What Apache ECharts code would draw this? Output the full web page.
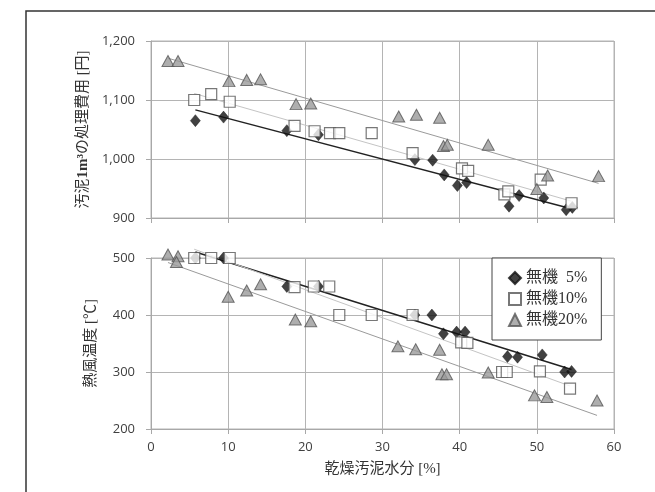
<!DOCTYPE html>
<html>
<head>
<meta charset="utf-8">
<script src="https://cdn.jsdelivr.net/npm/echarts@6/dist/echarts.min.js"></script>
<style>html,body{margin:0;padding:0;background:#fff;}#c{width:655px;height:492px;}</style>
</head>
<body>
<div id="c"></div>
<script>
// X: 乾燥汚泥水分 [%], Y(top): 汚泥1m³の処理費用 [円], Y(bottom): 熱風温度 [℃]
const names = ['無機\u20075%', '無機10%', '無機20%'];
const xTicks = { min: 0, max: 60, interval: 10 };
const costTicks = { min: 900, max: 1200, interval: 100 };
const tempTicks = { min: 200, max: 500, interval: 100 };

const cost5 = [[5.75,1065],[9.4,1071],[17.6,1048],[21.7,1041],[34.2,999],[36.5,998],[38.0,973],[39.7,955],[40.9,960],[46.4,920],[47.7,938],[50.9,934],[53.8,914],[54.6,918]];
const cost10 = [[5.6,1100],[7.8,1110],[10.2,1097],[18.6,1056],[21.2,1047],[23.2,1044],[24.4,1044],[28.6,1044],[33.9,1010],[40.3,984],[41.1,980],[45.8,940],[46.3,945],[50.5,965],[54.5,925]];
const cost20 = [[2.2,1166],[3.5,1166],[10.1,1132],[12.4,1134],[14.2,1135],[18.8,1093],[20.7,1094],[32.1,1072],[34.4,1075],[37.4,1070],[37.9,1022],[38.4,1024],[43.7,1024],[50.0,949],[51.4,972],[58.0,971]];

const temp5 = [[5.75,500],[9.4,500],[17.6,450],[21.7,450],[34.2,400],[36.4,400],[37.9,367],[39.6,370],[40.7,370],[46.2,327],[47.5,326],[50.7,330],[53.6,300],[54.5,301]];
const temp10 = [[5.6,500],[7.8,500],[10.2,500],[18.6,449],[21.1,450],[23.1,450],[24.4,400],[28.6,400],[33.9,400],[40.2,352],[41.0,351],[45.5,300],[46.1,300],[50.4,301],[54.3,271]];
const temp20 = [[2.2,506],[3.5,503],[3.3,493],[10.0,432],[12.4,443],[14.2,454],[18.7,392],[20.7,389],[32.0,345],[34.3,340],[37.4,339],[37.7,296],[38.3,296],[43.7,299],[49.7,259],[51.3,256],[57.8,250]];

function fit(pts) {
  const n = pts.length;
  let sx = 0, sy = 0, sxx = 0, sxy = 0, xmin = Infinity, xmax = -Infinity;
  pts.forEach(([x, y]) => { sx += x; sy += y; sxx += x * x; sxy += x * y; xmin = Math.min(xmin, x); xmax = Math.max(xmax, x); });
  const b = (n * sxy - sx * sy) / (n * sxx - sx * sx);
  const a = (sy - b * sx) / n;
  return [[xmin, a + b * xmin], [xmax, a + b * xmax]];
}

const tickFont = { fontFamily: "'Open Sans','Noto Sans',sans-serif", fontSize: 13, color: '#404040' };
const nameFont = { fontFamily: "'Liberation Serif','Noto Sans CJK JP',serif", fontSize: 15, color: '#333' };
const gridLine = { show: true, lineStyle: { color: '#b4b4b4', width: 1 } };
const axLine = { show: true, lineStyle: { color: '#a8a8a8', width: 1 } };
const axTick = { show: true, length: 5, lineStyle: { color: '#a8a8a8' } };

const markers = [
  { symbol: 'diamond', symbolSize: [10, 12], itemStyle: { color: '#111', borderColor: '#111', borderWidth: 0.5 } },
  { symbol: 'rect', symbolSize: 11, itemStyle: { color: '#fff', borderColor: '#555', borderWidth: 1.2 } },
  { symbol: 'triangle', symbolSize: [12, 11], itemStyle: { color: '#9a9a9a', borderColor: '#555', borderWidth: 1 } }
];
const trendStyles = [
  { color: '#222', width: 1.5 },
  { color: '#c4c4c4', width: 1 },
  { color: '#9a9a9a', width: 1 }
];

const series = [];
[[cost5, cost10, cost20], [temp5, temp10, temp20]].forEach((group, gi) => {
  group.forEach((pts, si) => {
    series.push({
      name: 'trend' + gi + si, type: 'line', xAxisIndex: gi, yAxisIndex: gi,
      data: fit(pts), showSymbol: false, symbol: 'none', silent: true, clip: false,
      lineStyle: trendStyles[si], z: 1, animation: false
    });
  });
  group.forEach((pts, si) => {
    series.push(Object.assign({
      name: names[si], type: 'scatter', xAxisIndex: gi, yAxisIndex: gi,
      data: pts, z: 2 + si, clip: false, animation: false
    }, markers[si]));
  });
});

const chart = echarts.init(document.getElementById('c'));
chart.setOption({
  animation: false,
  backgroundColor: '#fff',
  graphic: [{
    type: 'polyline', silent: true,
    shape: { points: [[26, 492], [26, 11], [655, 11]] },
    style: { stroke: '#333', lineWidth: 1.5, fill: null }
  }],
  grid: [
    { left: 151, right: 41, top: 41, height: 177, show: true, borderColor: '#b4b4b4', borderWidth: 1 },
    { left: 151, right: 41, top: 258, height: 171, show: true, borderColor: '#b4b4b4', borderWidth: 1 }
  ],
  xAxis: [
    Object.assign({ type: 'value', gridIndex: 0, axisLabel: { show: false }, splitLine: gridLine, axisLine: axLine, axisTick: axTick }, xTicks),
    Object.assign({
      type: 'value', gridIndex: 1, name: '乾燥汚泥水分 [%]', nameLocation: 'middle', nameGap: 33,
      nameTextStyle: nameFont, axisLabel: Object.assign({ margin: 12 }, tickFont),
      splitLine: gridLine, axisLine: axLine, axisTick: axTick
    }, xTicks)
  ],
  yAxis: [
    Object.assign({
      type: 'value', gridIndex: 0, name: '汚泥{b|1m³}の処理費用 [円]', nameLocation: 'middle', nameRotate: 90, nameGap: 52,
      nameTextStyle: Object.assign({ rich: { b: Object.assign({}, nameFont, { fontWeight: 'bold' }) } }, nameFont),
      axisLabel: Object.assign({ margin: 16 }, tickFont),
      splitLine: gridLine, axisLine: axLine, axisTick: axTick
    }, costTicks),
    Object.assign({
      type: 'value', gridIndex: 1, name: '熱風温度 [℃]', nameLocation: 'middle', nameRotate: 90, nameGap: 52,
      nameTextStyle: nameFont, axisLabel: Object.assign({ margin: 16 }, tickFont),
      splitLine: gridLine, axisLine: axLine, axisTick: axTick
    }, tempTicks)
  ],
  legend: {
    data: names, orient: 'vertical', left: 492, top: 258,
    backgroundColor: '#fff', borderColor: '#444', borderWidth: 1,
    padding: [12, 14, 12, 16], itemGap: 5, itemWidth: 12, itemHeight: 12,
    textStyle: { fontFamily: "'Liberation Serif','Noto Sans CJK JP',serif", fontSize: 16, color: '#333' },
    z: 10
  },
  series: series
});
</script>
</body>
</html>
